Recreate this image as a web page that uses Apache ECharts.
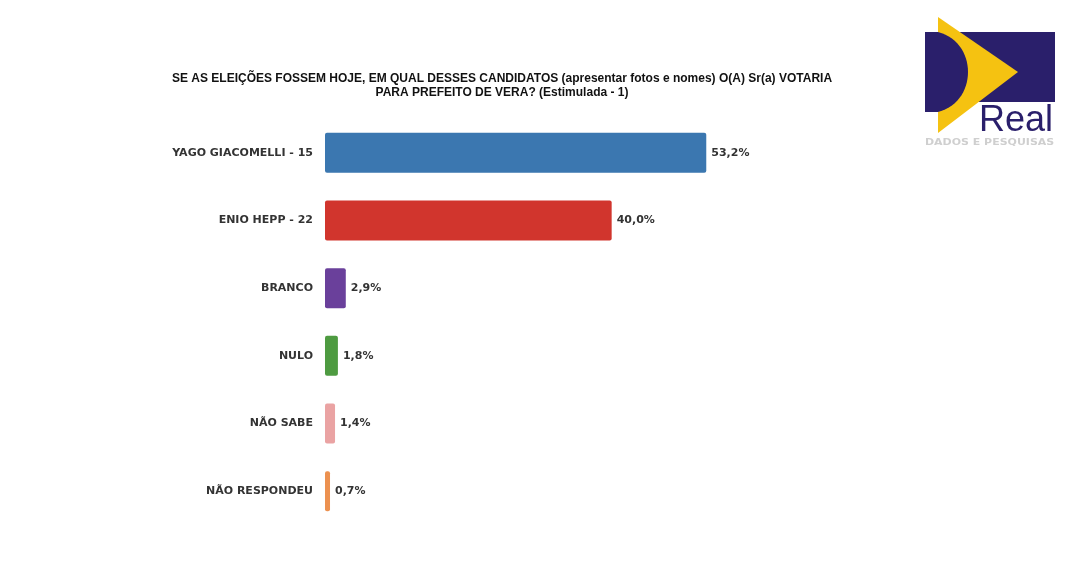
<!DOCTYPE html>
<html><head><meta charset="utf-8">
<script src="https://cdn.jsdelivr.net/npm/echarts@6/dist/echarts.min.js"></script>
<style>html,body{margin:0;padding:0;background:#fff}#c{width:1068px;height:578px}</style>
</head><body><div id="c"></div>
<script>
const categories = ['YAGO GIACOMELLI - 15','ENIO HEPP - 22','BRANCO','NULO','NÃO SABE','NÃO RESPONDEU'];
const values = [53.2, 40.0, 2.9, 1.8, 1.4, 0.7];
const colors = ['#3b77b0','#d1352d','#6a409b','#4e9b41','#eaa3a3','#ec9150'];
const titleLines = ['SE AS ELEIÇÕES FOSSEM HOJE, EM QUAL DESSES CANDIDATOS (apresentar fotos e nomes) O(A) Sr(a) VOTARIA','PARA PREFEITO DE VERA? (Estimulada - 1)'];

// logo "D" outline (cubic bezier sampled)
function bez(p0,p1,p2,p3,n){const pts=[];for(let i=0;i<=n;i++){const t=i/n,u=1-t;pts.push([u*u*u*p0[0]+3*u*u*t*p1[0]+3*u*t*t*p2[0]+t*t*t*p3[0],u*u*u*p0[1]+3*u*u*t*p1[1]+3*u*t*t*p2[1]+t*t*t*p3[1]]);}return pts;}
const dShape=[[925,32]].concat(bez([938,32],[978,42],[978,102],[938,112],30)).concat([[925,112]]);

const chart = echarts.init(document.getElementById('c'));
chart.setOption({
  animation:false,
  title:{text:titleLines.join('\n'), left:497, top:67, textAlign:'center',
    textStyle:{fontFamily:'Liberation Sans', fontWeight:'bold', fontSize:12, color:'#111', lineHeight:14}},
  grid:{left:325, top:119, height:406, width:430},
  xAxis:{type:'value', min:0, max:60, show:false},
  yAxis:{type:'category', data:categories, inverse:true,
    axisLine:{show:false}, axisTick:{show:false}, splitLine:{show:false},
    axisLabel:{margin:12, fontFamily:'DejaVu Sans', fontWeight:'bold', fontSize:11, color:'#333'}},
  series:[{type:'bar', barCategoryGap:'41%',
    data: values.map((v,i)=>({value:v, itemStyle:{color:colors[i], borderRadius:2}})),
    label:{show:true, position:'right', distance:5, fontFamily:'DejaVu Sans', fontWeight:'bold', fontSize:11, color:'#333',
      formatter:p=>p.value.toFixed(1).replace('.',',')+'%'}
  }],
  graphic:[
    {type:'rect', shape:{x:925,y:32,width:130,height:70}, style:{fill:'#2a1f6b'}},
    {type:'polygon', shape:{points:[[938,17],[1018,72],[938,133]]}, style:{fill:'#f5c211'}},
    {type:'polygon', shape:{points:dShape}, style:{fill:'#2a1f6b'}},
    {type:'text', x:979, y:103, style:{text:'Real', font:'36px "Liberation Sans"', fill:'#2a1f6b'}},
    {type:'text', x:925, y:138, scaleX:1.22, style:{text:'DADOS E PESQUISAS', font:'bold 9px "DejaVu Sans"', fill:'#cfcfcf'}}
  ]
});
</script></body></html>
